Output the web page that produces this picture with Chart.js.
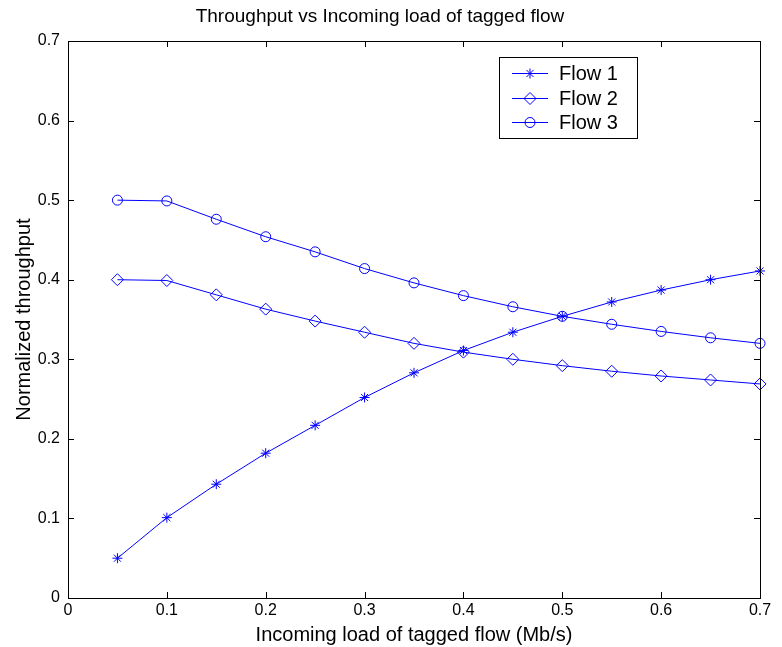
<!DOCTYPE html>
<html>
<head>
<meta charset="utf-8">
<script src="https://cdn.jsdelivr.net/npm/chart.js@4/dist/chart.umd.min.js"></script>
<style>
  body { margin: 0; background: #fff; }
  #c { display: block; }
</style>
</head>
<body>
<canvas id="c" width="782" height="647"></canvas>
<script>
// incoming load of tagged flow (Mb/s)
const loads = [0.05, 0.1, 0.15, 0.2, 0.25, 0.3, 0.35, 0.4, 0.45, 0.5, 0.55, 0.6, 0.65, 0.7]
const flow1 = [0.050, 0.101, 0.143, 0.182, 0.217, 0.252, 0.283, 0.311, 0.334, 0.354, 0.372, 0.387, 0.400, 0.411]
const flow2 = [0.400, 0.399, 0.381, 0.363, 0.348, 0.334, 0.320, 0.309, 0.300, 0.292, 0.285, 0.279, 0.274, 0.269]
const flow3 = [0.500, 0.499, 0.476, 0.454, 0.435, 0.414, 0.396, 0.380, 0.366, 0.354, 0.344, 0.335, 0.327, 0.320]
const seriesNames = ["Flow 1", "Flow 2", "Flow 3"]
const xTicks = [0, 0.1, 0.2, 0.3, 0.4, 0.5, 0.6, 0.7]
const yTicks = [0, 0.1, 0.2, 0.3, 0.4, 0.5, 0.6, 0.7]

const FONT = "'Liberation Sans', Arial, Helvetica, sans-serif"
const blue = "#0000ff"
const styles = [
  {pointStyle: 'star', radius: 5},
  {pointStyle: 'rectRot', radius: 6},
  {pointStyle: 'circle', radius: 5}
]

function toPoints(vals) {
  return vals.map((v, i) => ({x: loads[i], y: v}))
}

const datasets = [flow1, flow2, flow3].map((vals, i) => ({
  label: seriesNames[i],
  data: toPoints(vals),
  borderColor: blue,
  backgroundColor: 'rgba(0,0,0,0)',
  borderWidth: 1,
  pointStyle: styles[i].pointStyle,
  pointRadius: styles[i].radius,
  pointBorderWidth: 1,
  pointBorderColor: blue,
  pointBackgroundColor: 'rgba(0,0,0,0)',
  tension: 0,
  clip: false
}))

// box around the axes with inward ticks, MATLAB style
const boxPlugin = {
  id: 'box',
  afterDraw(chart) {
    const ctx = chart.ctx
    const a = chart.chartArea
    const xs = chart.scales.x, ys = chart.scales.y
    ctx.save()
    ctx.strokeStyle = '#000'
    ctx.lineWidth = 1
    ctx.strokeRect(a.left + 0.5, a.top + 0.5, a.right - a.left, a.bottom - a.top)
    ctx.beginPath()
    xTicks.forEach(t => {
      const px = Math.round(xs.getPixelForValue(t)) + 0.5
      ctx.moveTo(px, a.bottom); ctx.lineTo(px, a.bottom - 6)
      ctx.moveTo(px, a.top); ctx.lineTo(px, a.top + 6)
    })
    yTicks.forEach(t => {
      const py = Math.round(ys.getPixelForValue(t)) + 0.5
      ctx.moveTo(a.left, py); ctx.lineTo(a.left + 6, py)
      ctx.moveTo(a.right, py); ctx.lineTo(a.right - 6, py)
    })
    ctx.stroke()

    // legend box
    const lx = 499, ly = 57, lw = 138, lh = 81
    ctx.fillStyle = '#fff'
    ctx.fillRect(lx, ly, lw, lh)
    ctx.strokeRect(lx + 0.5, ly + 0.5, lw, lh)
    const rows = [73, 98, 122]
    chart.data.datasets.forEach((ds, i) => {
      const y = rows[i]
      ctx.strokeStyle = blue
      ctx.beginPath()
      ctx.moveTo(512, y + 0.5); ctx.lineTo(548, y + 0.5)
      ctx.stroke()
      ctx.fillStyle = 'rgba(0,0,0,0)'
      Chart.helpers.drawPoint(ctx, {pointStyle: ds.pointStyle, radius: ds.pointRadius, rotation: 0, borderWidth: 1}, 530, y + 0.5)
      ctx.fillStyle = '#000'
      ctx.font = "20px " + FONT
      ctx.textBaseline = 'middle'
      ctx.textAlign = 'left'
      ctx.fillText(ds.label, 559, y + 1)
    })
    ctx.restore()
  }
}

new Chart(document.getElementById('c'), {
  type: 'line',
  data: {datasets: datasets},
  plugins: [boxPlugin],
  options: {
    responsive: false,
    animation: false,
    layout: {padding: {left: 0, right: 22, top: 0, bottom: 0}},
    plugins: {
      legend: {display: false},
      tooltip: {enabled: false},
      title: {
        display: true,
        text: 'Throughput vs Incoming load of tagged flow',
        color: '#000',
        font: {family: FONT, size: 19, weight: 'normal', lineHeight: 1.2},
        padding: {top: 5.6, bottom: 12.6}
      }
    },
    scales: {
      x: {
        type: 'linear',
        min: 0, max: 0.7,
        afterBuildTicks(scale) { scale.ticks = xTicks.map(v => ({value: v})) },
        afterFit(scale) { scale.height = 49 },
        grid: {display: false, drawTicks: false},
        border: {display: true, color: '#000'},
        ticks: {
          color: '#000', padding: 3,
          font: {family: FONT, size: 16},
          maxRotation: 0,
          callback: v => String(+v.toFixed(1))
        },
        title: {
          display: true,
          text: 'Incoming load of tagged flow (Mb/s)',
          color: '#000',
          font: {family: FONT, size: 20},
          padding: {top: 0, bottom: 0}
        }
      },
      y: {
        min: 0, max: 0.7,
        afterBuildTicks(scale) { scale.ticks = yTicks.map(v => ({value: v})) },
        afterFit(scale) { scale.width = 68 },
        grid: {display: false, drawTicks: false},
        border: {display: true, color: '#000'},
        ticks: {
          color: '#000', padding: 8,
          font: {family: FONT, size: 16},
          callback: v => String(+v.toFixed(1))
        },
        title: {
          display: true,
          text: 'Normalized throughput',
          color: '#000',
          font: {family: FONT, size: 20},
          padding: {top: 12, bottom: 0}
        }
      }
    }
  }
})
</script>
</body>
</html>
